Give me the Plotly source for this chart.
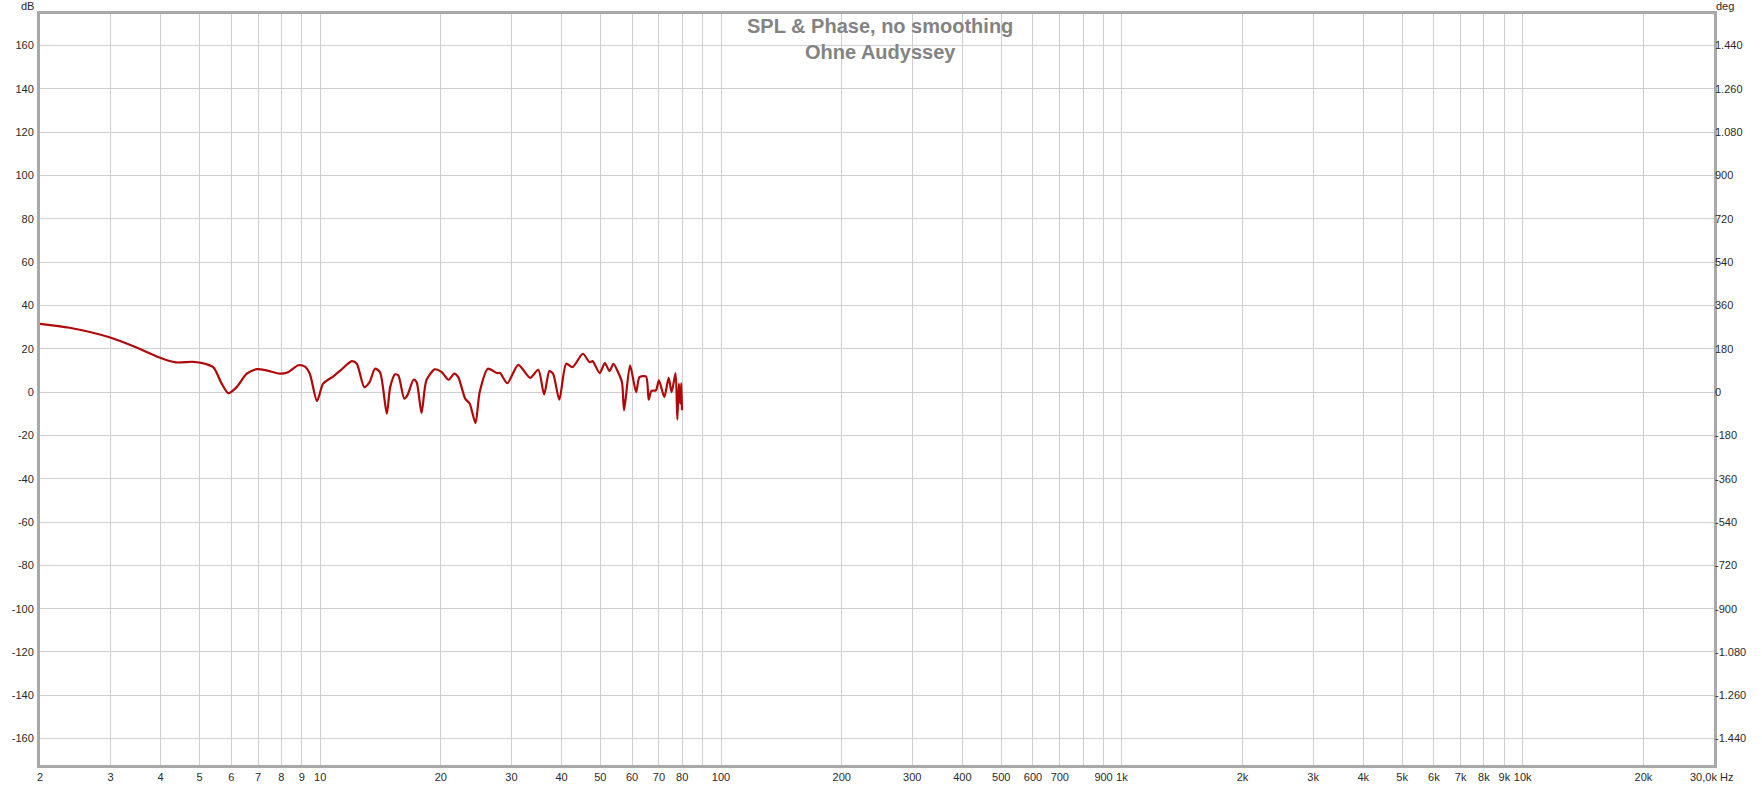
import plotly.graph_objects as go

# ---- data ----
freq_hz = [2.0, 2.37, 2.98, 3.47, 4.05, 4.37, 4.81, 5.05, 5.41, 5.68, 5.90, 6.19, 6.56, 6.95, 7.35,
           7.94, 8.32, 8.82, 9.16, 9.42, 9.82, 10.17, 10.77, 11.24, 11.99, 12.34, 12.88, 13.28, 13.7,
           14.1, 14.66, 14.95, 15.38, 15.67, 16.2, 16.5, 17.1, 17.4, 17.9, 18.4, 19.3, 20.1, 20.9,
           21.6, 22.1, 23.0, 23.6, 24.4, 25.0, 26.2, 27.6, 28.1, 29.3, 31.2, 33.4, 35.0, 36.2, 37.3,
           38.1, 39.5, 41.1, 42.6, 45.2, 47.0, 47.8, 49.8, 51.3, 52.7, 53.9, 55.1, 56.6, 57.3, 59.3,
           61.4, 62.6, 65.0, 66.0, 67.0, 68.8, 70.0, 72.2, 74.0, 75.3, 77.0, 77.8, 78.5, 79.1, 79.6,
           79.9]
spl_db = [31.5, 29.7, 25.3, 20.7, 15.4, 13.7, 14.0, 13.5, 11.5, 3.9, -0.5, 2.3, 8.5, 10.6, 10.0,
          8.5, 9.2, 12.4, 11.8, 8.5, -4.1, 3.9, 7.2, 10.0, 14.3, 13.1, 2.3, 4.6, 10.8,
          9.2, -10.0, 2.3, 8.2, 7.7, -3.0, -1.5, 5.7, 4.6, -9.7, 5.4, 10.5, 9.2, 5.7,
          8.5, 6.9, -3.0, -5.3, -14.3, 0.0, 10.8, 8.8, 8.8, 4.1, 12.6, 6.6, 10.3, -1.1, 9.7,
          8.5, -3.5, 13.1, 11.5, 17.7, 13.8, 14.3, 8.8, 13.4, 9.7, 13.1, 10.0, 4.6, -8.4, 12.3,
          0.0, 6.9, 7.2, -3.5, 0.5, 0.8, 5.4, -2.3, 6.6, 0.0, 8.8, -12.7, 3.9, -5.3, 4.1,
          -8.4]

x_tickvals = [2, 3, 4, 5, 6, 7, 8, 9, 10, 20, 30, 40, 50, 60, 70, 80, 90, 100,
              200, 300, 400, 500, 600, 700, 800, 900, 1000,
              2000, 3000, 4000, 5000, 6000, 7000, 8000, 9000, 10000, 20000, 30000]
x_ticktext = ["2", "3", "4", "5", "6", "7", "8", "9", "10", "20", "30", "40", "50", "60", "70", "80", "", "100",
              "200", "300", "400", "500", "600", "700", "", "900", "1k",
              "2k", "3k", "4k", "5k", "6k", "7k", "8k", "9k", "10k", "20k", ""]
db_ticks = list(range(-160, 161, 20))
db_ticktext = [str(v) for v in db_ticks]
deg_ticks = [v * 9 for v in db_ticks]
deg_ticktext = ["-1.440", "-1.260", "-1.080", "-900", "-720", "-540", "-360", "-180", "0",
                "180", "360", "540", "720", "900", "1.080", "1.260", "1.440"]

title1 = "SPL & Phase, no smoothing"
title2 = "Ohne Audyssey"

DB_RANGE = [-172.2, 174.6]
FONT = "Liberation Sans, Arial, sans-serif"
GRID = "#cfcfcf"
FRAME = "#a9a9a9"
TXT = "#2a2a2a"

fig = go.Figure()
fig.add_trace(go.Scatter(x=freq_hz, y=spl_db, mode="lines",
                         line=dict(color="#b00808", width=2.2, shape="spline", smoothing=0.7),
                         hoverinfo="skip", showlegend=False))
# invisible trace so the right axis is rendered
fig.add_trace(go.Scatter(x=[1000], y=[0], yaxis="y2", mode="markers",
                         marker=dict(opacity=0), hoverinfo="skip", showlegend=False))

fig.update_layout(
    width=1762, height=787,
    margin=dict(l=40, r=48, t=14, b=22),
    paper_bgcolor="white", plot_bgcolor="white",
    font=dict(family=FONT, size=11, color=TXT),
    showlegend=False,
    xaxis=dict(type="log", range=[0.30103, 4.4771213], tickvals=x_tickvals, ticktext=x_ticktext,
               showgrid=True, gridcolor=GRID, gridwidth=1, zeroline=False, automargin=False,
               showline=True, linecolor=FRAME, linewidth=3, mirror=True,
               ticks="", ticklabelstandoff=0, tickfont=dict(size=11, color=TXT)),
    yaxis=dict(range=DB_RANGE, tickvals=db_ticks, ticktext=db_ticktext, showgrid=True,
               gridcolor=GRID, gridwidth=1,
               zeroline=False, showline=True, linecolor=FRAME, linewidth=3, mirror=True,
               automargin=False, ticks="", ticklabelstandoff=1, tickfont=dict(size=11, color=TXT)),
    yaxis2=dict(range=[DB_RANGE[0] * 9, DB_RANGE[1] * 9], overlaying="y", side="right",
                tickvals=deg_ticks, ticktext=deg_ticktext, showgrid=False, zeroline=False,
                showline=False, ticks="", automargin=False, ticklabelstandoff=0,
                tickfont=dict(size=11, color=TXT)),
    annotations=[
        dict(text=title1, xref="paper", yref="paper", x=0.502, y=1, yshift=-12, xanchor="center",
             yanchor="middle", showarrow=False,
             font=dict(family=FONT, size=20, color="#838383", weight="bold")),
        dict(text=title2, xref="paper", yref="paper", x=0.502, y=1, yshift=-38, xanchor="center",
             yanchor="middle", showarrow=False,
             font=dict(family=FONT, size=20, color="#838383", weight="bold")),
        dict(text="dB", xref="paper", yref="paper", x=0, xshift=-13, y=1, yshift=8,
             xanchor="center", yanchor="middle", showarrow=False,
             font=dict(family=FONT, size=11, color=TXT)),
        dict(text="deg", xref="paper", yref="paper", x=1, xshift=11, y=1, yshift=8,
             xanchor="center", yanchor="middle", showarrow=False,
             font=dict(family=FONT, size=11, color=TXT)),
        dict(text="30,0k Hz", xref="paper", yref="paper", x=1, xshift=-26, y=0, yshift=-12,
             xanchor="left", yanchor="middle", showarrow=False,
             font=dict(family=FONT, size=11, color=TXT)),
    ],
)

fig.write_html("out.html", config={"displayModeBar": False},
               post_script="document.body.style.margin='0';")
